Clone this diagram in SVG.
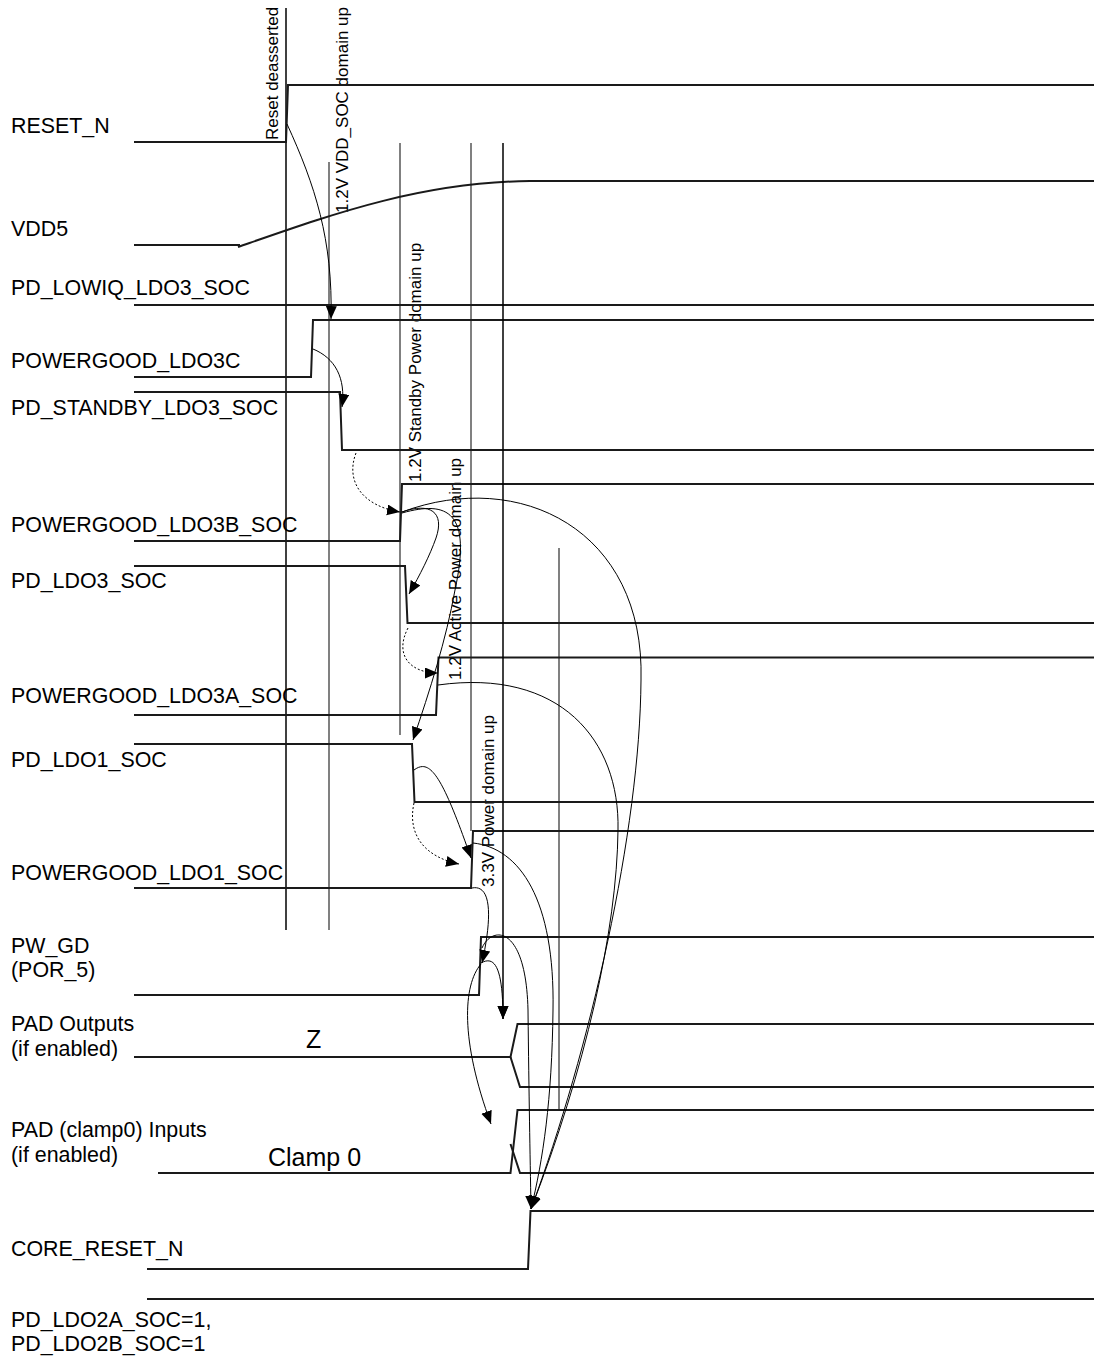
<svg xmlns="http://www.w3.org/2000/svg" width="1094" height="1359" viewBox="0 0 1094 1359">
<style>
.bg{fill:#fff}
.w{fill:none;stroke:#1a1a1a;stroke-width:2}
.g{fill:none;stroke:#808080;stroke-width:2}
.k{fill:none;stroke:#000;stroke-width:1.5}
.c{fill:none;stroke:#000;stroke-width:1}
.d{stroke-dasharray:2 2}
.lbl{font-family:"Liberation Sans",Arial,sans-serif;font-size:21.4px;fill:#000}
.vt{font-family:"Liberation Sans",Arial,sans-serif;font-size:17px;fill:#000}
.big{font-family:"Liberation Sans",Arial,sans-serif;font-size:25px;fill:#000}
</style>
<defs>
<marker id="ah" markerUnits="userSpaceOnUse" markerWidth="14" markerHeight="12" refX="13" refY="5.5" orient="auto" viewBox="0 0 14 12">
<path d="M0,0 L13,5.5 L0,11 z" fill="#000"/>
</marker>
</defs>
<rect class="bg" x="0" y="0" width="1094" height="1359"/>

<g id="guides">
<line class="k" x1="286" y1="8" x2="286" y2="930"/>
<line class="g" x1="329" y1="162" x2="329" y2="930"/>
<line class="g" x1="400" y1="143" x2="400" y2="735"/>
<line class="g" x1="471" y1="143" x2="471" y2="831"/>
<line class="g" x1="559" y1="548" x2="559" y2="1110"/>
<text class="vt" transform="translate(278,140) rotate(-90)">Reset deasserted</text>
<text class="vt" transform="translate(348,213) rotate(-90)">1.2V VDD_SOC domain up</text>
<text class="vt" transform="translate(420.5,482) rotate(-90)">1.2V Standby Power domain up</text>
<text class="vt" transform="translate(460.5,680) rotate(-90)">1.2V Active Power domain up</text>
<text class="vt" transform="translate(494,887) rotate(-90)">3.3V Power domain up</text>
</g>

<g id="reset_n">
<text class="lbl" x="11" y="133">RESET_N</text>
<polyline class="w" points="134,142 286,142 288,85 1094,85"/>
</g>
<g id="vdd5">
<text class="lbl" x="11" y="236">VDD5</text>
<path class="w" d="M134,245 L240,245 M238,247 C330,215 420,182 530,181 L1094,181"/>
</g>
<g id="pd_lowiq_ldo3_soc">
<text class="lbl" x="11" y="295">PD_LOWIQ_LDO3_SOC</text>
<line class="w" x1="134" y1="305" x2="1094" y2="305"/>
</g>
<g id="powergood_ldo3c">
<text class="lbl" x="11" y="368">POWERGOOD_LDO3C</text>
<polyline class="w" points="134,377 311,377 313,320 1094,320"/>
</g>
<g id="pd_standby_ldo3_soc">
<text class="lbl" x="11" y="415">PD_STANDBY_LDO3_SOC</text>
<polyline class="w" points="134,392 340,392 342,450 1094,450"/>
</g>
<g id="powergood_ldo3b_soc">
<text class="lbl" x="11" y="532">POWERGOOD_LDO3B_SOC</text>
<polyline class="w" points="134,541 400,541 402,484 1094,484"/>
</g>
<g id="pd_ldo3_soc">
<text class="lbl" x="11" y="588">PD_LDO3_SOC</text>
<polyline class="w" points="134,566 405,566 407.5,623 1094,623"/>
</g>
<g id="powergood_ldo3a_soc">
<text class="lbl" x="11" y="703">POWERGOOD_LDO3A_SOC</text>
<polyline class="w" points="134,715 436,715 438.5,657.5 1094,657.5"/>
</g>
<g id="pd_ldo1_soc">
<text class="lbl" x="11" y="767">PD_LDO1_SOC</text>
<polyline class="w" points="134,744 412,744 414.5,802 1094,802"/>
</g>
<g id="powergood_ldo1_soc">
<text class="lbl" x="11" y="880">POWERGOOD_LDO1_SOC</text>
<polyline class="w" points="134,888 471,888 473,831 1094,831"/>
</g>
<g id="pw_gd">
<text class="lbl" x="11" y="953">PW_GD</text>
<text class="lbl" x="11" y="977">(POR_5)</text>
<polyline class="w" points="134,995 479,995 481,937 1094,937"/>
</g>
<g id="pad_outputs">
<text class="lbl" x="11" y="1031">PAD Outputs</text>
<text class="lbl" x="11" y="1056">(if enabled)</text>
<text class="big" x="306" y="1048">Z</text>
<polyline class="w" points="134,1057 510.5,1057 517.5,1024 1094,1024"/>
<polyline class="w" points="510.5,1057 520,1087 1094,1087"/>
</g>
<g id="pad_clamp_inputs">
<text class="lbl" x="11" y="1137">PAD (clamp0) Inputs</text>
<text class="lbl" x="11" y="1162">(if enabled)</text>
<text class="big" x="268" y="1166">Clamp 0</text>
<polyline class="w" points="158,1173 510.5,1173 517.5,1110 1094,1110"/>
<polyline class="w" points="510.5,1144 520,1173 1094,1173"/>
</g>
<g id="core_reset_n">
<text class="lbl" x="11" y="1256">CORE_RESET_N</text>
<polyline class="w" points="147,1269 528,1269 530.5,1211 1094,1211"/>
</g>
<g id="pd_ldo2">
<text class="lbl" x="11" y="1327">PD_LDO2A_SOC=1,</text>
<text class="lbl" x="11" y="1351">PD_LDO2B_SOC=1</text>
<line class="w" x1="147" y1="1299" x2="1094" y2="1299"/>
</g>

<g id="connectors">
<line class="k" x1="503" y1="143" x2="503" y2="1019" marker-end="url(#ah)"/>
<path class="c" d="M287,124 C315,185 333,240 331,319" marker-end="url(#ah)"/>
<path class="c" d="M313,349 C335,358 346,378 342,407" marker-end="url(#ah)"/>
<path class="c d" d="M356,453 C345,482 363,506 400,512" marker-end="url(#ah)"/>
<path class="c" d="M402,512 C430,502 445,512 436,538 C430,555 420,575 409,594" marker-end="url(#ah)"/>
<path class="c" d="M402,513 C448,500 472,512 455,590 C446,640 430,690 413,740" marker-end="url(#ah)"/>
<path class="c" d="M402,512 C520,468 645,530 641,680 C640,830 590,1050 531,1209" marker-end="url(#ah)"/>
<path class="c d" d="M408,628 C394,655 410,673 438,673" marker-end="url(#ah)"/>
<path class="c" d="M438,685 C560,668 620,740 618,830 C617,930 585,1070 531,1209" marker-end="url(#ah)"/>
<path class="c" d="M414,770 C430,758 442,775 471,858" marker-end="url(#ah)"/>
<path class="c d" d="M414,803 C407,835 425,857 459,864" marker-end="url(#ah)"/>
<path class="c" d="M473,843 C520,848 555,900 553,1010 C552,1100 543,1160 531,1209" marker-end="url(#ah)"/>
<path class="c" d="M472,888 C492,884 492,918 482,963" marker-end="url(#ah)"/>
<path class="c" d="M482,948 C492,925 526,925 528,1010 C529,1100 530,1150 531,1209" marker-end="url(#ah)"/>
<path class="c" d="M481,963 C495,955 503,968 503,1019" marker-end="url(#ah)"/>
<path class="c" d="M481,964 C463,985 460,1040 491,1124" marker-end="url(#ah)"/>
</g>
</svg>
